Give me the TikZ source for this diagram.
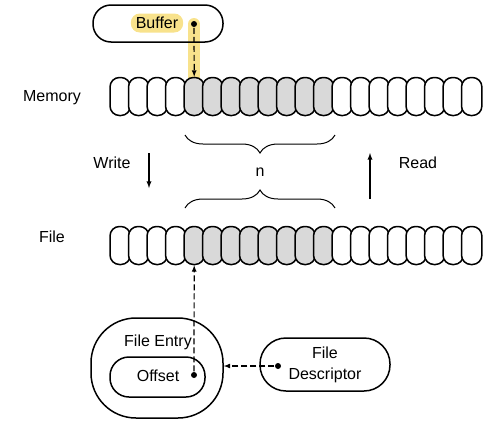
\documentclass[tikz,border=0pt]{standalone}
\usepackage{fontspec}
\setmainfont{Liberation Sans}
\usetikzlibrary{positioning,calc,decorations.pathreplacing}
\definecolor{hilite}{RGB}{248,226,140}
\definecolor{cellgray}{RGB}{217,217,217}

\begin{document}
\begin{tikzpicture}[x=1pt,y=-1pt,line width=1.5pt,
    font=\fontsize{16}{18}\selectfont,
    cell/.style={draw,rounded corners=9.5pt,minimum width=20.4pt,minimum height=38pt,inner sep=0pt},
    dot/.style={circle,fill,inner sep=0pt,minimum size=6pt},
    ptr/.style={-latex,line width=1.2pt,dash pattern=on 6pt off 3pt}]
      \useasboundingbox (0,0) rectangle (501,421);

      % buffer on top, with the yellow marks
      \draw[hilite,line width=12pt,line cap=round] (194,24) -- (194,80);
      \node[fill=hilite,rounded corners=9pt,inner xsep=5pt,minimum height=19pt] (buftxt) at (157,23) {Buffer};
      \node[draw,rounded corners=18pt,minimum width=130pt,minimum height=37pt] (buf) at (158,23.5) {};
      \node[dot] (bufdot) at (194,24) {};

      % memory and file rows
      \foreach \i in {0,...,19} {
        \pgfmathsetmacro\cx{120.2+18.5*\i}
        \ifnum\i<4 \def\cf{white}\else\ifnum\i>11 \def\cf{white}\else\def\cf{cellgray}\fi\fi
        \node[cell,fill=\cf] (m\i) at (\cx,96.5) {};
        \node[cell,fill=\cf] (f\i) at (\cx,245.5) {};
      }
      \node (memlbl) at (52,98) {Memory};
      \node (filelbl) at (52,237) {File};
      \draw[ptr] (bufdot) -- (m4.north);

      % n bytes between them
      \draw[decorate,decoration={brace,mirror,amplitude=18pt},line width=1pt] (185,135) -- (335,135);
      \draw[decorate,decoration={brace,amplitude=18pt},line width=1pt] (185,208) -- (335,208);
      \node (nlbl) at (260,172) {n};

      \coordinate (wtop) at (149,153);
      \coordinate (wbot) at (149,188);
      \coordinate (rbot) at (370,199);
      \coordinate (rtop) at (370,153);
      \draw[-latex,line width=1.3pt] (wtop) -- (wbot);
      \draw[-latex,line width=1.3pt] (rbot) -- (rtop);
      \node (wlbl) at (112,163) {Write};
      \node (rlbl) at (418,163) {Read};

      % file entry and descriptor
      \node[draw,rounded corners=45pt,minimum width=132pt,minimum height=100pt] (entry) at (157,368) {};
      \node (entrylbl) at (158,342) {File Entry};
      \node[draw,rounded corners=19pt,minimum width=95pt,minimum height=40pt] (offset) at (157.5,377) {};
      \node (offlbl) at (158,376) {Offset};
      \node[dot] (offdot) at (194,375) {};
      \draw[ptr] (offdot) -- (f4.south);

      \node[draw,rounded corners=26pt,minimum width=130pt,minimum height=53pt,align=center,
        font=\fontsize{16}{21}\selectfont] (fd) at (325,364.5) {File\\Descriptor};
      \node[dot] (fddot) at (278,366) {};
      \draw[ptr] (fddot) -- (fddot -| entry.east);
\end{tikzpicture}
\end{document}
